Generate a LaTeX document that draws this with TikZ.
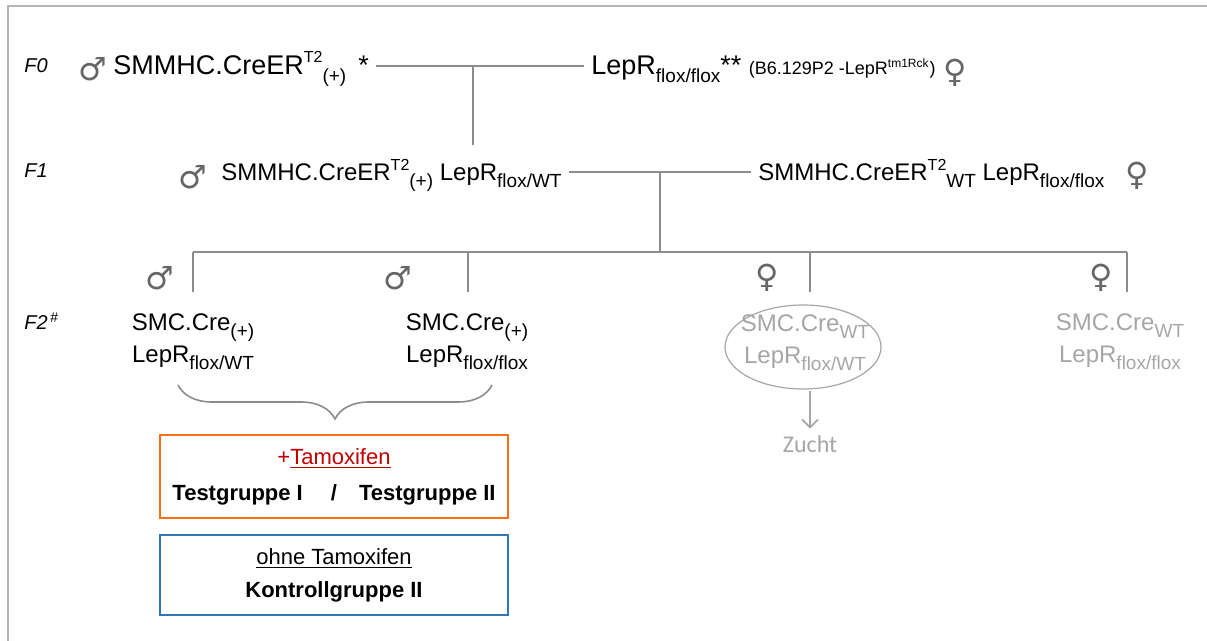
\documentclass[tikz,border=0pt]{standalone}
\usepackage{fontspec}
\setmainfont{Liberation Sans}
\newfontfamily\symfont{DejaVu Sans}
\newfontfamily\calfont{Carlito}
\usepackage{xcolor}
\usetikzlibrary{arrows.meta,positioning,decorations.pathreplacing}
\definecolor{pedLine}{RGB}{140,140,140}
\definecolor{pedGray}{RGB}{166,166,166}
\definecolor{pedFrame}{RGB}{180,180,180}
\definecolor{pedOrange}{RGB}{250,110,20}
\definecolor{pedBlue}{RGB}{50,118,186}
\definecolor{pedRed}{RGB}{192,0,0}
\newcommand{\lo}[1]{\raisebox{-0.55ex}{\fontsize{9.5}{9.5}\selectfont #1}}
\newcommand{\hi}[1]{\raisebox{0.85ex}{\fontsize{8}{8}\selectfont #1}}

\begin{document}
\begin{tikzpicture}[x=0.5pt,y=-0.5pt,
  geno/.style={inner xsep=3.5pt, inner ysep=0pt, font=\fontsize{12}{16}\selectfont},
  big/.style={geno, font=\fontsize{13.5}{16}\selectfont},
  gen/.style={inner sep=0pt, font=\fontsize{10}{12}\selectfont\itshape},
  sex/.style={inner sep=0pt, text=black!60, font=\symfont\fontsize{16}{16}\selectfont},
  link/.style={pedLine, line width=0.8pt},
  grpbox/.style={line width=1.2pt, minimum width=174pt, align=center, font=\fontsize{11}{18}\selectfont}]
\useasboundingbox (0,0) rectangle (1207,641);
\draw[pedFrame, line width=1pt] (8,660) -- (8,6) -- (1230,6);

% F0
\node[gen, anchor=base west] (g0) at (24,73) {F0};
\node[sex] (m0sym) at (93,69) {♂};
\node[big, anchor=base west] (m0) at (106,75) {SMMHC.CreER\hi{T2}\lo{(+)} \,*};
\node[big, anchor=base west] (f0) at (584,75) {LepR\lo{flox/flox}** {\fontsize{9}{10}\selectfont(B6.129P2 -LepR\textsuperscript{tm1Rck})}};
\node[sex] (f0sym) at (955,73) {♀};
\coordinate (j0) at (473,66);
\coordinate (e0) at (473,145);
\draw[link] (m0.east |- j0) -- (f0.west |- j0);
\draw[link] (j0) -- (e0);

% F1
\node[gen, anchor=base west] (g1) at (24,178) {F1};
\node[sex] (m1sym) at (193,177) {♂};
\node[geno, anchor=base west] (m1) at (214,181) {SMMHC.CreER\hi{T2}\lo{(+)} LepR\lo{flox/WT}};
\node[geno, anchor=base west] (f1) at (751,181) {SMMHC.CreER\hi{T2}\lo{WT} LepR\lo{flox/flox}};
\node[sex] (f1sym) at (1137,176) {♀};
\coordinate (j1) at (660,172);
\coordinate (bar) at (660,252);
\draw[link] (m1.east |- j1) -- (f1.west |- j1);
\draw[link] (j1) -- (bar);

% F2
\node[gen, anchor=base west] (g2) at (24,330) {F2\textsuperscript{\,\#}};
\node[geno, align=center] (c1) at (193,342) {SMC.Cre\lo{(+)}\\LepR\lo{flox/WT}};
\node[geno, align=center] (c2) at (467,342) {SMC.Cre\lo{(+)}\\LepR\lo{flox/flox}};
\node[geno, align=center, text=pedGray] (c3) at (805,343) {SMC.Cre\lo{WT}\\LepR\lo{flox/WT}};
\node[geno, align=center, text=pedGray] (c4) at (1120,342) {SMC.Cre\lo{WT}\\LepR\lo{flox/flox}};
\node[sex] (s1) at (160,278) {♂};
\node[sex] (s2) at (398,278) {♂};
\node[sex] (s3) at (767,278) {♀};
\node[sex] (s4) at (1101,278) {♀};
\coordinate (d1) at (193,292);
\coordinate (d2) at (468,292);
\coordinate (d3) at (810,292);
\coordinate (d4) at (1127,292);
\draw[link] (d1 |- bar) -- (d4 |- bar);
\foreach \d in {d1,d2,d3,d4}
  \draw[link] (\d |- bar) -- (\d);

\draw[pedGray, line width=0.6pt] ([xshift=-1pt,yshift=-2pt]c3.center) ellipse [x radius=39pt, y radius=21pt];
\node[text=pedGray, font=\calfont\fontsize{12}{14}\selectfont] (zucht) at (810,444) {Zucht};
\draw[pedGray, line width=0.8pt, -{Straight Barb[length=4pt,width=8pt]}] (zucht |- 0,391) -- (zucht.north);

% groups
\coordinate (b1) at (178,385);
\coordinate (b2) at (492,385);
\draw[link, decorate, decoration={brace, mirror, amplitude=17pt}] (b1) -- (b2);

\node[grpbox, draw=pedOrange, minimum height=41.5pt] (tam) at (334,476.5)
  {\textcolor{pedRed}{+\underline{Tamoxifen}}\\\textbf{Testgruppe I \quad/\quad Testgruppe II}};
\node[grpbox, draw=pedBlue, minimum height=40pt, font=\fontsize{11}{16.5}\selectfont] (ctl) at (334,575)
  {\underline{ohne Tamoxifen}\\\textbf{Kontrollgruppe II}};
\end{tikzpicture}
\end{document}
